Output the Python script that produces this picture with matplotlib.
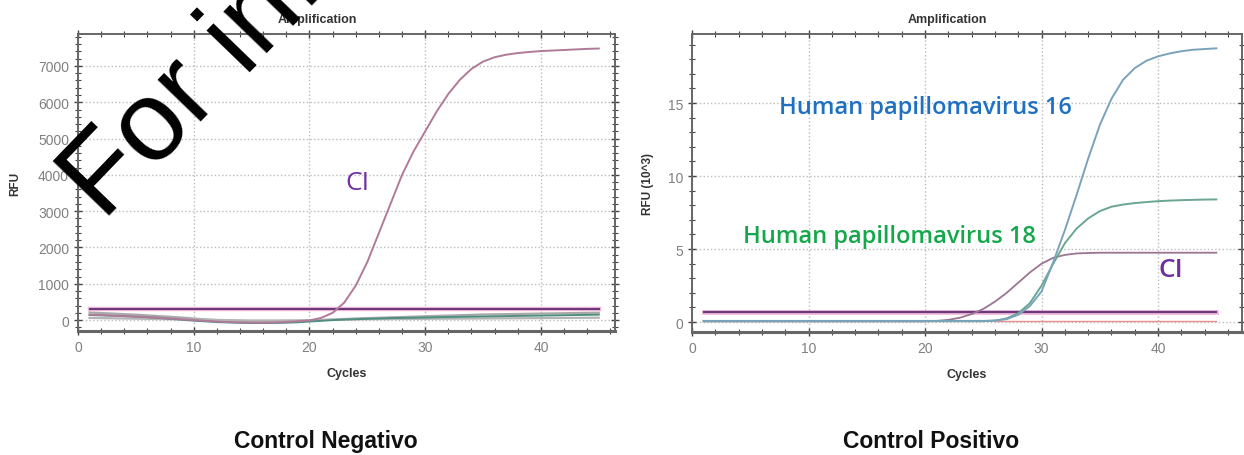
import numpy as np
import matplotlib.pyplot as plt
from matplotlib.ticker import MultipleLocator

cycles = list(range(1, 46))

# Control Negativo (RFU)
neg_ci = [150, 140, 125, 110, 95, 80, 60, 40, 20, 0, -20, -40, -55, -65, -70,
          -70, -65, -50, -30, -10, 60, 200, 480, 950, 1600, 2400, 3200, 4000,
          4650, 5200, 5750, 6230, 6620, 6920, 7120, 7240, 7310, 7355, 7385,
          7410, 7425, 7440, 7455, 7470, 7480]
neg_gray1 = [210, 195, 180, 165, 150, 130, 110, 90, 70, 45, 20, 0, -20, -35,
             -45, -50, -50, -45, -35, -20, 0, 15, 30, 45, 55, 65, 75, 85, 95,
             105, 115, 125, 135, 145, 155, 160, 165, 170, 175, 180, 185, 190,
             195, 200, 205]
neg_teal = [140, 130, 120, 110, 95, 80, 60, 35, 10, -15, -35, -55, -65, -75,
            -80, -80, -78, -72, -60, -40, -20, 0, 15, 25, 35, 45, 55, 60, 65,
            72, 78, 85, 90, 95, 100, 105, 110, 115, 120, 125, 130, 135, 140,
            145, 150]
neg_gray2 = [60, 55, 50, 45, 40, 35, 30, 25, 20, 15, 10, 5, 0, -5, -10, -10,
             -10, -8, -5, 0, 5, 10, 15, 20, 25, 28, 30, 32, 34, 36, 38, 40, 42,
             44, 46, 48, 50, 52, 54, 56, 58, 60, 62, 64, 66]
neg_threshold = 300

# Control Positivo (RFU x 10^3)
pos_hpv16 = [0.08] * 25 + [0.1, 0.2, 0.5, 1.1, 2.1, 4.1, 6.3, 8.7, 11.2,
                           13.5, 15.3, 16.6, 17.4, 17.9, 18.2, 18.4, 18.55,
                           18.65, 18.7, 18.75]
pos_hpv18 = [0.06] * 25 + [0.1, 0.25, 0.6, 1.3, 2.5, 4.0, 5.4, 6.4, 7.1, 7.6,
                           7.9, 8.05, 8.15, 8.22, 8.28, 8.32, 8.35, 8.37, 8.39,
                           8.4]
pos_ci = [0.05] * 20 + [0.08, 0.15, 0.3, 0.55, 0.9, 1.4, 2.0, 2.7, 3.4, 4.0,
                        4.4, 4.6, 4.7, 4.73, 4.75, 4.75, 4.75, 4.75, 4.75,
                        4.75, 4.75, 4.75, 4.75, 4.75, 4.75]
pos_red = [None] * 25 + [0.05] * 20
pos_threshold = 0.7

plt.rcParams['font.family'] = ['Liberation Sans', 'DejaVu Sans']
label_font = ['Open Sans', 'DejaVu Sans']

fig = plt.figure(figsize=(12.44, 4.56), dpi=100)
ax1 = fig.add_axes([78 / 1244, 1 - 332 / 456, (615 - 78) / 1244, (332 - 35) / 456])
ax2 = fig.add_axes([692 / 1244, 1 - 333 / 456, (1242 - 692) / 1244, (333 - 35) / 456])


def style(ax, ymajor, yminor, title_x):
    ax.xaxis.set_major_locator(MultipleLocator(10))
    ax.xaxis.set_minor_locator(MultipleLocator(2))
    ax.yaxis.set_major_locator(MultipleLocator(ymajor))
    ax.yaxis.set_minor_locator(MultipleLocator(yminor))
    ax.tick_params(which='both', direction='inout', top=True, right=True,
                   colors='#444444', labelcolor='#808080', labelsize=10)
    ax.tick_params(which='major', length=6, width=1)
    ax.tick_params(which='minor', length=4, width=0.8)
    ax.grid(True, which='major', ls=':', lw=1, color='#bbbbbb')
    for s in ax.spines.values():
        s.set_color('#666666')
        s.set_linewidth(1.4)
    ax.spines['bottom'].set_linewidth(2.2)
    ax.set_title('Amplification', fontsize=9, fontweight='bold',
                 color='#333333', x=title_x, pad=9)
    ax.set_xlabel('Cycles', fontsize=9, fontweight='bold', color='#333333',
                  labelpad=9)


# left panel
ax1.plot(cycles, neg_gray1, color='#a9a9a9', lw=1.6)
ax1.plot(cycles, neg_gray2, color='#b5b5b5', lw=1.6)
ax1.plot(cycles, neg_teal, color='#4f8f80', lw=1.4)
ax1.plot(cycles, [neg_threshold] * len(cycles), color='#f2b8d8', lw=3.2)
ax1.plot(cycles, [neg_threshold] * len(cycles), color='#6b3a7d', lw=1.5)
ax1.plot(cycles, neg_ci, color='#b07a98', lw=1.4)
ax1.set_xlim(0, 46.4)
ax1.set_ylim(-300, 7880)
style(ax1, 1000, 200, 0.445)
ax1.set_ylabel('RFU', fontsize=8.5, fontweight='bold', color='#333333',
               labelpad=12)
ax1.text(23.1, 3800, 'CI', color='#7030a0', fontsize=19, va='center',
         family=label_font)

# right panel
ax2.plot(cycles, pos_red, color='#e89090', lw=1)
ax2.plot(cycles, [pos_threshold] * len(cycles), color='#f2b8d8', lw=3.4)
ax2.plot(cycles, [pos_threshold] * len(cycles), color='#6b3a7d', lw=1.6)
ax2.plot(cycles, pos_ci, color='#9a7590', lw=1.3)
ax2.plot(cycles, pos_hpv18, color='#6aa690', lw=1.4)
ax2.plot(cycles, pos_hpv16, color='#7aa3bb', lw=1.4)
ax2.set_xlim(0, 47.2)
ax2.set_ylim(-0.68, 19.73)
style(ax2, 5, 1, 0.464)
ax2.set_ylabel('RFU (10^3)', fontsize=8.5, fontweight='bold', color='#333333',
               labelpad=10)
ax2.text(7.5, 14.7, 'Human papillomavirus 16', color='#1f70c1', fontsize=17,
         fontweight='semibold', va='center', family=label_font)
ax2.text(4.4, 5.9, 'Human papillomavirus 18', color='#15a84a', fontsize=17,
         fontweight='semibold', va='center', family=label_font)
ax2.text(40.0, 3.6, 'CI', color='#7030a0', fontsize=19, fontweight='semibold',
         va='center', family=label_font)

fig.text(326 / 1244, 1 - 442 / 456, 'Control Negativo', ha='center',
         va='center', fontsize=16.5, fontweight='bold', color='#111111')
fig.text(931 / 1244, 1 - 442 / 456, 'Control Positivo', ha='center',
         va='center', fontsize=16.5, fontweight='bold', color='#111111')

# watermark
fig.text(104 / 1244, 1 - 222 / 456, 'For information only', fontsize=82,
         rotation=46, rotation_mode='anchor', ha='left', va='baseline',
         color='black', zorder=10)

fig.savefig('out.png', dpi=100)
